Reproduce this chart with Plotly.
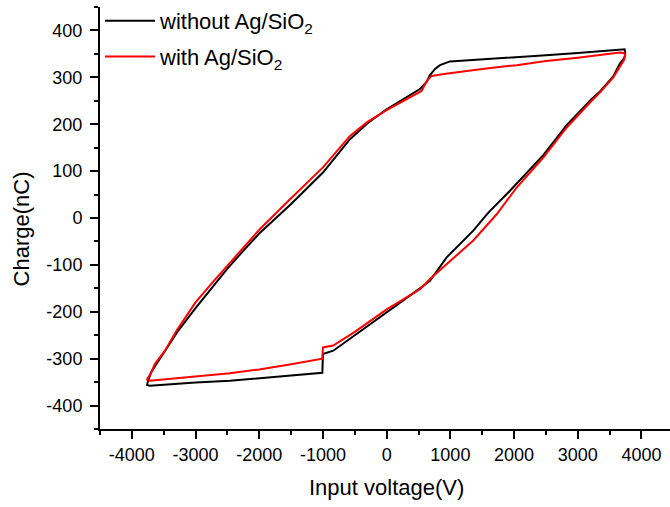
import plotly.graph_objects as go

# Input voltage (V) and charge (nC) for the two hysteresis loops
V_without = [-3760, -3700, -3611, -3402, -3271, -3000, -2750, -2500, -2251, -2000, -1500, -1000,
             -576, -300, 0, 300, 523, 628, 680, 760, 837, 994, 1500, 2000, 2500, 3000, 3558,
             3700, 3735, 3745, 3740, 3715, 3663, 3557, 3350, 3218, 2826, 2459, 1936, 1600,
             1360, 942, 680, 523, 0, -500, -838, -1000, -1005, -1010, -1500, -2000, -2460,
             -3000, -3500, -3716, -3760, -3760]
Q_without = [-354, -330, -311, -268, -240, -192, -150, -108, -70, -33, 30, 97,
             168, 202, 232, 257, 275, 290, 305, 318, 326, 334, 338, 343, 347, 352, 358,
             361, 360, 355, 345, 338, 330, 302, 270, 254, 198, 134, 58, 12,
             -27, -84, -134, -150, -202, -250, -283, -290, -310, -330, -336, -342, -347,
             -351, -355, -358, -356, -354]

V_with = [-3760, -3716, -3637, -3480, -3297, -3000, -2750, -2500, -2303, -2000, -1500, -1000,
          -576, -300, 0, 300, 549, 628, 706, 900, 1150, 1500, 2041, 2500, 3000, 3500, 3663,
          3720, 3745, 3730, 3688, 3557, 3350, 3218, 2826, 2459, 2041, 1727, 1360, 942, 680,
          523, 0, -500, -838, -1000, -1005, -1010, -1500, -2000, -2460, -3000, -3500, -3716,
          -3760, -3760]
Q_with = [-343, -335, -311, -283, -240, -180, -140, -102, -70, -25, 42, 108,
          175, 205, 230, 252, 271, 292, 303, 307, 312, 318, 326, 335, 342, 350, 353,
          352, 348, 338, 328, 300, 268, 250, 193, 129, 65, 8, -48, -98, -130,
          -152, -195, -243, -272, -276, -290, -300, -312, -323, -331, -338, -344, -347,
          -345, -343]

x_ticks = [-4000, -3000, -2000, -1000, 0, 1000, 2000, 3000, 4000]
y_ticks = [-400, -300, -200, -100, 0, 100, 200, 300, 400]

FONT = "Liberation Sans, Arial, sans-serif"

fig = go.Figure()
fig.add_trace(go.Scatter(x=V_without, y=Q_without, mode="lines",
                         line=dict(color="#000000", width=2),
                         name="without Ag/SiO<sub>2</sub>", legendgroup="a"))
fig.add_trace(go.Scatter(x=V_with, y=Q_with, mode="lines",
                         line=dict(color="#ff0000", width=2),
                         name="with Ag/SiO<sub>2</sub>", legendgroup="b"))

fig.update_layout(
    width=670, height=507,
    margin=dict(l=100, r=0, t=6, b=78),
    paper_bgcolor="white", plot_bgcolor="white",
    font=dict(family=FONT, size=18, color="#000"),
    showlegend=True,
    legend=dict(x=0.0, y=1.016, xanchor="left", yanchor="top",
                bgcolor="rgba(0,0,0,0)", borderwidth=0,
                font=dict(size=22, family=FONT, color="#000"),
                itemwidth=50, tracegroupgap=4),
    xaxis=dict(range=[-4500, 4448], tickmode="array", tickvals=x_ticks,
               ticktext=[str(v) for v in x_ticks],
               ticks="outside", ticklen=8, tickwidth=2, tickcolor="#000",
               minor=dict(ticks="outside", ticklen=4, tickwidth=2, tickcolor="#000",
                          tickmode="linear", tick0=-4500, dtick=1000),
               showline=True, linewidth=2, linecolor="#000",
               showgrid=False, zeroline=False,
               tickfont=dict(size=18, family=FONT)),
    xaxis2=dict(overlaying="x", side="top", anchor="y", range=[0, 9.965],
                tickmode="linear", tick0=0, dtick=1, ticks="inside", ticklen=3,
                tickwidth=1, tickcolor="#333", showticklabels=False,
                showline=True, linewidth=1.5, linecolor="#333",
                showgrid=False, zeroline=False),
    yaxis=dict(range=[-450, 450], tickmode="array", tickvals=y_ticks,
               ticktext=[str(v) for v in y_ticks],
               ticks="outside", ticklen=8, tickwidth=2, tickcolor="#000",
               minor=dict(ticks="outside", ticklen=4, tickwidth=2, tickcolor="#000",
                          tickmode="linear", tick0=-450, dtick=100),
               showline=True, linewidth=2, linecolor="#000",
               showgrid=False, zeroline=False,
               tickfont=dict(size=18, family=FONT), ticklabelstandoff=4),
    annotations=[
        dict(text="Input voltage(V)", xref="x", yref="paper", x=0, y=-0.139,
             xanchor="center", yanchor="middle", showarrow=False,
             font=dict(size=22, family=FONT, color="#000")),
        dict(text="Charge(nC)", xref="paper", yref="paper", x=-0.137, y=0.475,
             xanchor="center", yanchor="middle", textangle=-90, showarrow=False,
             font=dict(size=22, family=FONT, color="#000")),
    ],
)

fig.write_html("out.html")
